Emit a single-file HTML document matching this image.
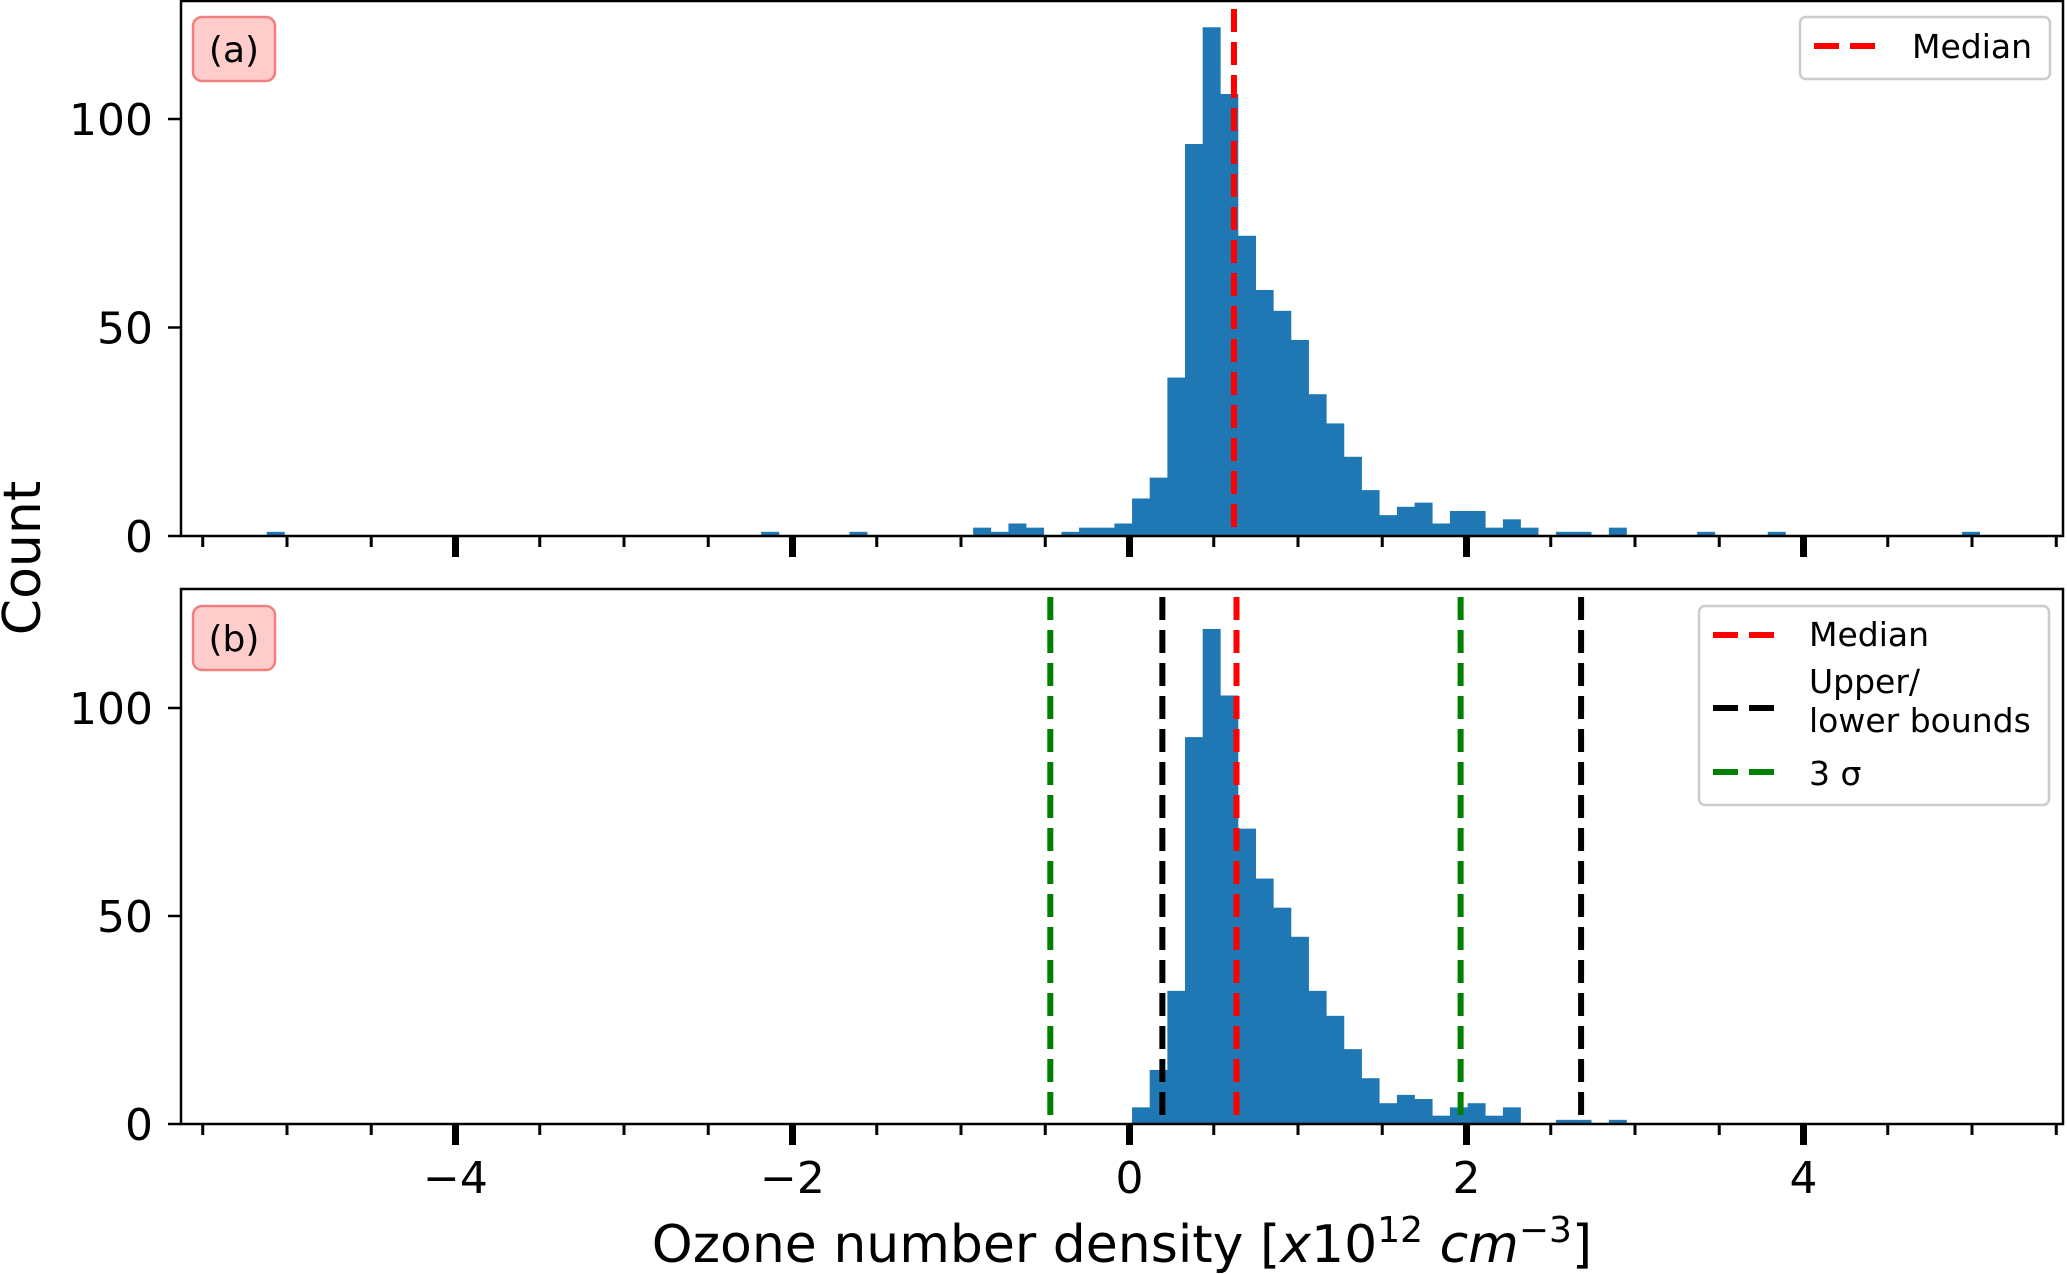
<!DOCTYPE html>
<html><head><meta charset="utf-8">
<style>
html,body{margin:0;padding:0;background:#fff;}
svg{display:block;font-family:"DejaVu Sans","Liberation Sans",sans-serif;}
</style></head>
<body>
<svg id="chart" width="2067" height="1274" viewBox="0 0 2067 1274" xmlns="http://www.w3.org/2000/svg"></svg>
<script>
// ---- data ----
const binStart = -5.12;
const binWidth = 0.1048;
const binIndexA = [0,28,33,40,41,42,43,45,46,47,48,49,50,51,52,53,54,55,56,57,58,59,60,61,62,63,64,65,66,67,68,69,70,71,73,74,76,81,85,96];
const countsA   = [1,1,1,2,1,3,2,1,2,2,3,9,14,38,94,122,106,72,59,54,47,34,27,19,11,5,7,8,3,6,6,2,4,2,1,1,2,1,1,1];
const binIndexB = [49,50,51,52,53,54,55,56,57,58,59,60,61,62,63,64,65,66,67,68,69,70,73,74,76];
const countsB   = [4,13,32,93,119,103,71,59,52,45,32,26,18,11,5,7,6,2,4,5,2,4,1,1,1];
const medianA = [0.62];
const medianB = [0.635];
const boundsB = [0.195, 2.68];
const sigmaB = [-0.47, 1.965];
const xMajorTicks = [-4,-2,0,2,4];
const xMajorLabels = ["\u22124","\u22122","0","2","4"];
const yTicks = [0,50,100];
const yTickLabels = ["0","50","100"];

// ---- layout ----
const L = 181, R = 2063;
const xMin = -5.629, xMax = 5.540;
const X = v => L + (v - xMin) / (xMax - xMin) * (R - L);
const panels = [
  {name:'a', top:1, bottom:536, yMax:128.3},
  {name:'b', top:589, bottom:1124, yMax:128.6}
];
const NS = 'http://www.w3.org/2000/svg';
const svg = document.getElementById('chart');
function mk(tag, attrs, parent){
  const e = document.createElementNS(NS, tag);
  for (const k in attrs) e.setAttribute(k, attrs[k]);
  (parent||svg).appendChild(e);
  return e;
}

panels.forEach((p, pi) => {
  const Y = v => p.bottom - v / p.yMax * (p.bottom - p.top);
  const g = mk('g', {});
  
  
  const idx = pi === 0 ? binIndexA : binIndexB;
  const cnt = pi === 0 ? countsA : countsB;
  idx.forEach((k, i) => {
    const x0 = X(binStart + k * binWidth), x1 = X(binStart + (k + 1) * binWidth);
    const r = mk('rect', {x:x0, y:Y(cnt[i]), width:x1 - x0 + 0.3, height:Y(0) - Y(cnt[i]), fill:'#1f77b4'}, g);
    
    
  });
  function vline(v, color, nm){
    const l = mk('line', {x1:X(v), x2:X(v), y1:p.top + 8, y2:p.bottom, stroke:color, 'stroke-width':6, 'stroke-dasharray':'23 10'}, g);
    
    
  }
  if (pi === 0) {
    medianA.forEach(v => vline(v, '#ff0000', 'median-line'));
  } else {
    sigmaB.forEach(v => vline(v, '#008000', 'three-sigma-line'));
    boundsB.forEach(v => vline(v, '#000000', 'bound-line'));
    medianB.forEach(v => vline(v, '#ff0000', 'median-line'));
  }
  const fr = mk('rect', {x:L, y:p.top, width:R - L, height:p.bottom - p.top, fill:'none', stroke:'#000', 'stroke-width':2.5}, g);
  
  
  yTicks.forEach((t, i) => {
    mk('line', {x1:L - 13, x2:L, y1:Y(t), y2:Y(t), stroke:'#000', 'stroke-width':2.5}, g);
    const tx = mk('text', {x:L - 28, y:Y(t) + 16, 'font-size':44, 'text-anchor':'end', fill:'#000'}, g);
    tx.textContent = yTickLabels[i];
    
    
  });
  for (let v = -5.5; v <= 5.5001; v += 0.5) {
    if (Math.abs(v % 2) < 1e-6 && Math.abs(v) <= 4) continue;
    if (X(v) > R) continue;
    mk('line', {x1:X(v), x2:X(v), y1:p.bottom, y2:p.bottom + 11, stroke:'#000', 'stroke-width':3}, g);
  }
  xMajorTicks.forEach((t, i) => {
    mk('line', {x1:X(t), x2:X(t), y1:p.bottom, y2:p.bottom + 21, stroke:'#000', 'stroke-width':7}, g);
    if (pi === 1) {
      const tx = mk('text', {x:X(t), y:1193, 'font-size':44, 'text-anchor':'middle', fill:'#000'}, g);
      tx.textContent = xMajorLabels[i];
      
      
    }
  });
  const by = pi === 0 ? 17 : 606;
  const pb = mk('rect', {x:193, y:by, width:82, height:64, rx:9, fill:'#ffcccc', stroke:'#f08080', 'stroke-width':2.5}, g);
  
  
  const pt = mk('text', {x:234, y:by + 45, 'font-size':36, 'text-anchor':'middle', fill:'#000'}, g);
  pt.textContent = '(' + p.name + ')';
  
  
});

function legendBox(x, y, w, h, nm){
  const r = mk('rect', {x:x, y:y, width:w, height:h, rx:6, fill:'#fff', 'fill-opacity':0.8, stroke:'#cccccc', 'stroke-width':2.5});
  
  
}
function legendLine(x, y, color){
  mk('line', {x1:x, x2:x + 61, y1:y, y2:y, stroke:color, 'stroke-width':6, 'stroke-dasharray':'25 11'});
}
function legendText(x, y, s, nm){
  const t = mk('text', {x:x, y:y, 'font-size':33, fill:'#000'});
  t.textContent = s;
  
  
}
legendBox(1800, 17, 250, 62, 'legend-a');
legendLine(1814, 46, '#ff0000');
legendText(1912, 58, 'Median', 'legend-entry-median');

legendBox(1699, 606, 350, 199, 'legend-b');
legendLine(1713, 635, '#ff0000');
legendText(1809, 646, 'Median', 'legend-entry-median');
legendLine(1713, 708, '#000000');
legendText(1809, 693, 'Upper/', 'legend-entry-bounds');
legendText(1809, 732, 'lower bounds', 'legend-entry-bounds');
legendLine(1713, 772, '#008000');
legendText(1809, 785, '3 \u03c3', 'legend-entry-sigma');

const yl = mk('text', {x:0, y:0, 'font-size':52, 'text-anchor':'middle', fill:'#000', transform:'translate(40,558) rotate(-90)'});
yl.textContent = 'Count';



const xl = mk('text', {x:1122, y:1262, 'font-size':52, 'text-anchor':'middle', fill:'#000'});


xl.innerHTML = 'Ozone number density [<tspan font-style="italic">x</tspan>10<tspan font-size="36" dy="-20">12</tspan><tspan dy="20"> </tspan><tspan font-style="italic">cm</tspan><tspan font-size="36" dy="-20">\u22123</tspan><tspan dy="20">]</tspan>';
</script>
</body></html>
